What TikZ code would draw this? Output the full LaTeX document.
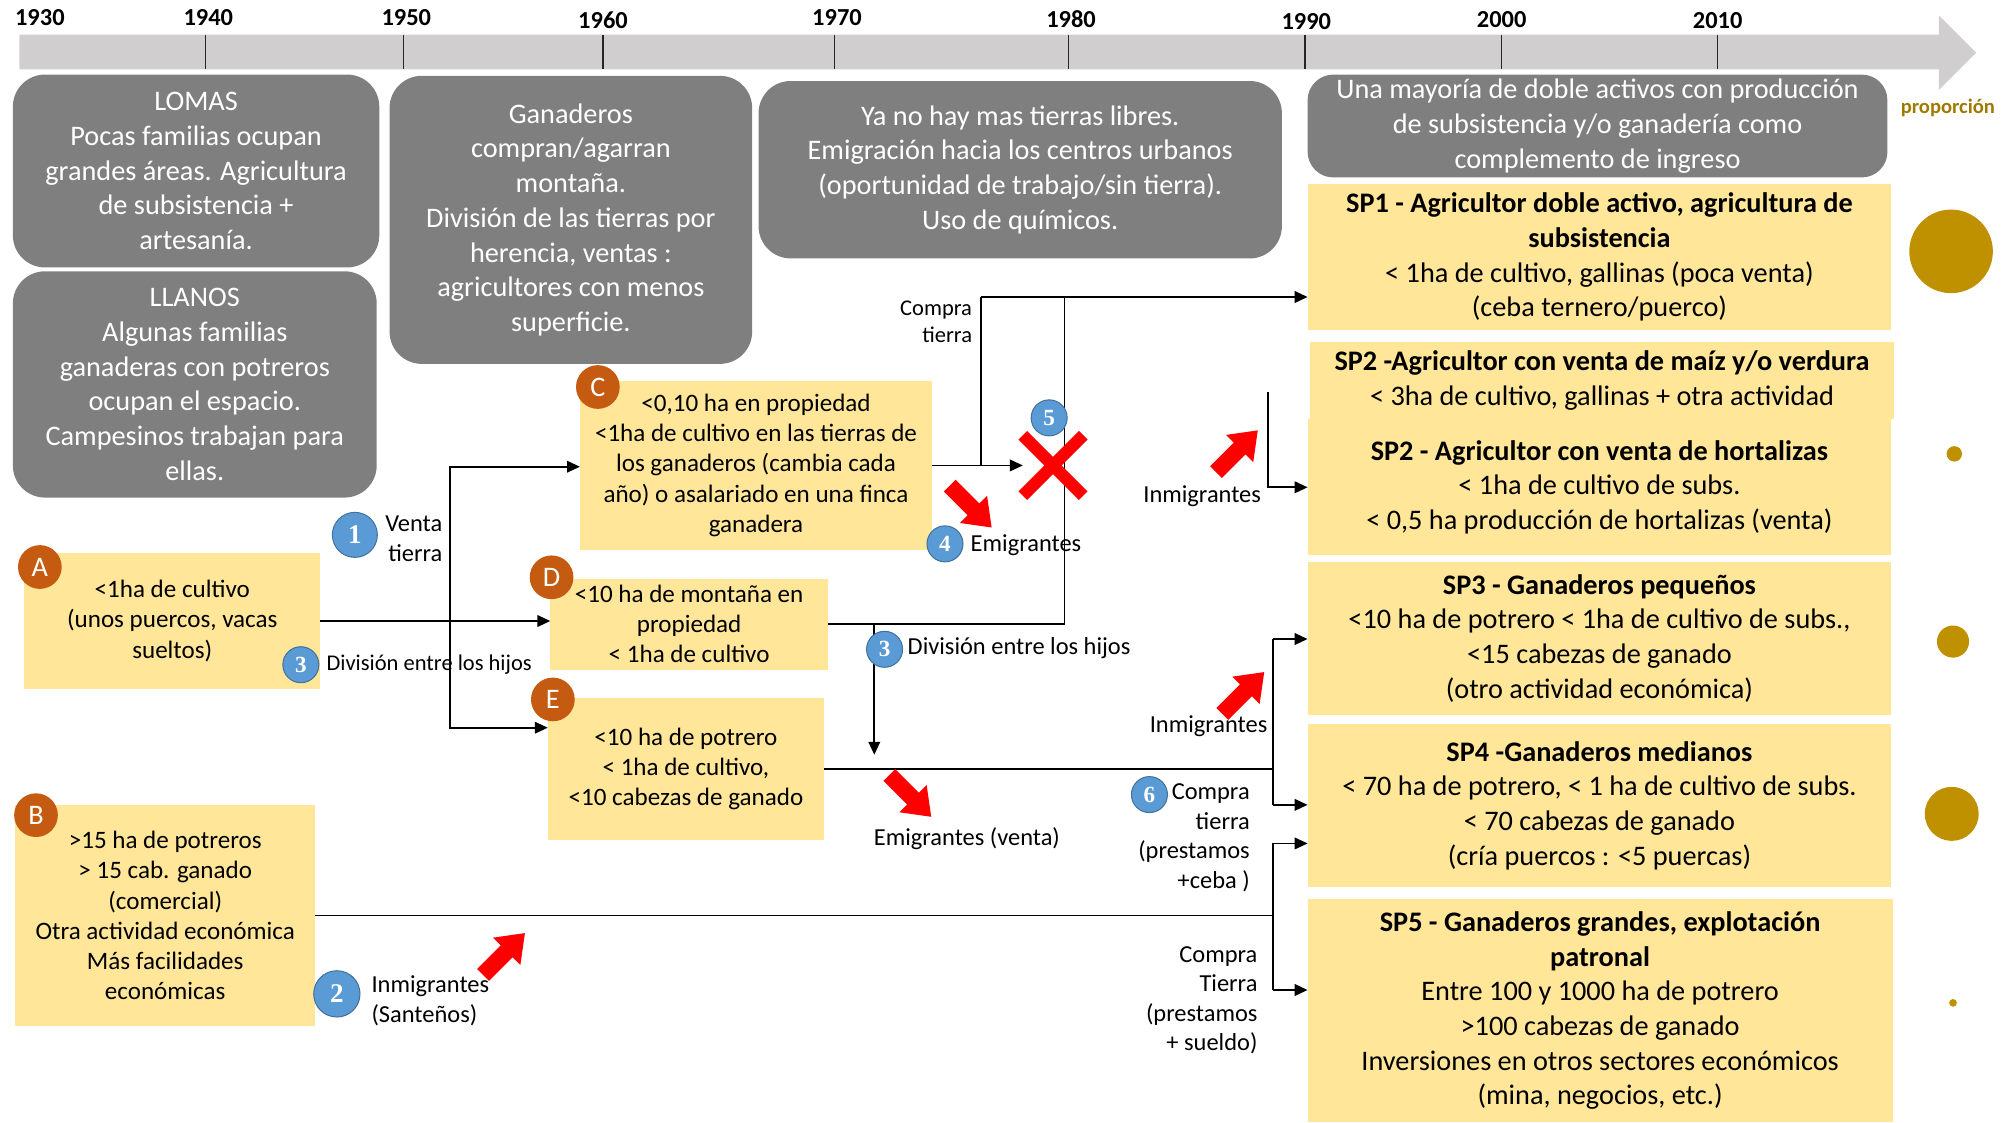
\documentclass[tikz,border=0pt]{standalone}
\usepackage{fontspec}
\setmainfont{Carlito}
\newfontfamily\numfont{Liberation Serif}
\usetikzlibrary{arrows.meta}

\definecolor{timebar}{HTML}{D0CECE}
\definecolor{eragray}{HTML}{7F7F7F}
\definecolor{farmyellow}{HTML}{FFE699}
\definecolor{letterorange}{HTML}{C55A11}
\definecolor{stepblue}{HTML}{5B9BD5}
\definecolor{stepedge}{HTML}{41719C}
\definecolor{sharegold}{HTML}{BF9000}
\definecolor{sharetext}{HTML}{A07A00}

\tikzset{
  redarrow/.pic={\fill[red] (-23,-6.5) -- (3,-6.5) -- (3,-15) -- (23,0) -- (3,15) -- (3,6.5) -- (-23,6.5) -- cycle;}
}

\begin{document}
\begin{tikzpicture}[x=1pt, y=-1pt,
  every node/.style={inner sep=0pt, outer sep=0pt},
  erabox/.style={fill=eragray, rounded corners=25pt, text=white, align=center, font=\fontsize{22}{27}\selectfont},
  farmbox/.style={fill=farmyellow, align=center, font=\fontsize{19.5}{23.4}\selectfont},
  spbox/.style={fill=farmyellow, align=center, font=\fontsize{22}{27}\selectfont},
  lbl/.style={font=\fontsize{19}{23}\selectfont},
  smalllbl/.style={font=\fontsize{17.5}{21}\selectfont},
  yearlabel/.style={font=\bfseries\fontsize{19}{19}\selectfont},
  letterdot/.style={circle, fill=letterorange, text=white, minimum size=34, font=\fontsize{22}{22}\selectfont},
  stepdot/.style={circle, fill=stepblue, draw=stepedge, line width=0.8pt, text=white, minimum size=28, font=\numfont\bfseries\fontsize{18}{18}\selectfont},
  bigstep/.style={stepdot, minimum size=35, font=\numfont\bfseries\fontsize{21}{21}\selectfont},
  sharedot/.style={circle, fill=sharegold},
  conn/.style={line width=1.3pt, black},
  connarrow/.style={conn, -{Triangle[length=10pt,width=9pt]}},
  yeartick/.style={line width=1pt, black!85}
]
\useasboundingbox (0,0) rectangle (1568,873);

% ---- timeline ----
\fill[timebar] (15,27) -- (1508,27) -- (1508,12) -- (1537,41) -- (1508,70) -- (1508,54) -- (15,54) -- cycle;
\foreach \tx in {160,314,469,649,831,1015,1168,1336}
  \draw[yeartick] (\tx,27) -- (\tx,54);
\node[yearlabel] (y1930) at (31,14) {1930};
\node[yearlabel] (y1940) at (162,14) {1940};
\node[yearlabel] (y1950) at (316,14) {1950};
\node[yearlabel] (y1960) at (469,16) {1960};
\node[yearlabel] (y1970) at (651,14) {1970};
\node[yearlabel] (y1980) at (833,15) {1980};
\node[yearlabel] (y1990) at (1016,17) {1990};
\node[yearlabel] (y2000) at (1168,15) {2000};
\node[yearlabel] (y2010) at (1336,16) {2010};

% ---- period descriptions ----
\node[erabox, minimum width=285, minimum height=150] (lomas) at (152.5,133)
  {LOMAS\\Pocas familias ocupan\\grandes áreas. Agricultura\\de subsistencia +\\artesanía.};
\node[erabox, minimum width=283, minimum height=176] (llanos) at (151.5,299)
  {LLANOS\\Algunas familias\\ganaderas con potreros\\ocupan el espacio.\\Campesinos trabajan para\\ellas.};
\node[erabox, minimum width=282, minimum height=224] (ganad) at (444,171)
  {Ganaderos\\compran/agarran\\montaña.\\División de las tierras por\\herencia, ventas :\\agricultores con menos\\superficie.};
\node[erabox, minimum width=407, minimum height=138] (tierras) at (793.5,132)
  {Ya no hay mas tierras libres.\\Emigración hacia los centros urbanos\\(oportunidad de trabajo/sin tierra).\\Uso de químicos.};
\node[erabox, rounded corners=20pt, minimum width=451, minimum height=80] (mayoria) at (1242.5,98)
  {Una mayoría de doble activos con producción\\de subsistencia y/o ganadería como\\complemento de ingreso};

% ---- farm types ----
\node[farmbox, minimum width=230, minimum height=106] (A) at (134,483)
  {<1ha de cultivo\\(unos puercos, vacas\\sueltos)};
\node[farmbox, minimum width=233, minimum height=172] (B) at (128.5,712)
  {>15 ha de potreros\\> 15 cab. ganado\\(comercial)\\Otra actividad económica\\Más facilidades\\económicas};
\node[farmbox, minimum width=274, minimum height=132] (C) at (588,362)
  {<0,10 ha en propiedad\\<1ha de cultivo en las tierras de\\los ganaderos (cambia cada\\año) o asalariado en una finca\\ganadera};
\node[farmbox, minimum width=216, minimum height=71] (D) at (536,485.5)
  {<10 ha de montaña en\\propiedad\\< 1ha de cultivo};
\node[farmbox, minimum width=215, minimum height=110] (E) at (533.5,598)
  {<10 ha de potrero\\< 1ha de cultivo,\\<10 cabezas de ganado};

% ---- present production systems ----
\node[spbox, minimum width=454, minimum height=114] (sp1) at (1244,200)
  {\textbf{SP1 - Agricultor doble activo, agricultura de}\\\textbf{subsistencia}\\< 1ha de cultivo, gallinas (poca venta)\\(ceba ternero/puerco)};
\node[spbox, minimum width=454, minimum height=60] (sp2a) at (1246,296)
  {\textbf{SP2 -Agricultor con venta de maíz y/o verdura}\\< 3ha de cultivo, gallinas + otra actividad};
\node[spbox, minimum width=454, minimum height=106] (sp2b) at (1244,379)
  {\textbf{SP2 - Agricultor con venta de hortalizas}\\< 1ha de cultivo de subs.\\< 0,5 ha producción de hortalizas (venta)};
\node[spbox, minimum width=454, minimum height=119] (sp3) at (1244,496.5)
  {\textbf{SP3 - Ganaderos pequeños}\\<10 ha de potrero < 1ha de cultivo de subs.,\\<15 cabezas de ganado\\(otro actividad económica)};
\node[spbox, minimum width=454, minimum height=127] (sp4) at (1244,626.5)
  {\textbf{SP4 -Ganaderos medianos}\\< 70 ha de potrero, < 1 ha de cultivo de subs.\\< 70 cabezas de ganado\\(cría puercos : <5 puercas)};
\node[spbox, minimum width=455, minimum height=174] (sp5) at (1244.5,786)
  {\textbf{SP5 - Ganaderos grandes, explotación}\\\textbf{patronal}\\Entre 100 y 1000 ha de potrero\\>100 cabezas de ganado\\Inversiones en otros sectores económicos\\(mina, negocios, etc.)};

% ---- proportion of each system ----
\node[font=\bfseries\fontsize{16}{16}\selectfont, text=sharetext] (prop) at (1515,84) {proporción};
\node[sharedot, minimum size=65] (p1) at (1517.5,195.5) {};
\node[sharedot, minimum size=12] (p2) at (1520,353) {};
\node[sharedot, minimum size=25] (p3) at (1519,499) {};
\node[sharedot, minimum size=42] (p4) at (1518,633) {};
\node[sharedot, minimum size=6] (p5) at (1519,780) {};

% ---- red cross ----
\node[minimum width=47, minimum height=47] (cross) at (819,362) {};

% ---- connectors ----
\coordinate (vt) at (350,483);
\coordinate (vtop) at (350,363);
\coordinate (vbot) at (350,566);
\draw[connarrow] (A.east) -- (D.west |- A.east);
\draw[connarrow] (vt) -- (vtop) -- (C.west |- vtop);
\draw[connarrow] (vt) -- (vbot) -- (E.west |- vbot);

\coordinate (ct) at (763,362);
\coordinate (ctop) at (763,231);
\coordinate (dj) at (828,485.5);
\coordinate (djtop) at (828,231);
\draw[connarrow] (C.east) -- (cross.west);
\draw[conn] (ct) -- (ctop);
\draw[connarrow] (ctop) -- (sp1.west |- ctop);
\draw[conn] (D.east) -- (dj) -- (djtop);

\coordinate (dsplit) at (680,485.5);
\coordinate (dsplitend) at (680,587);
\draw[connarrow] (dsplit) -- (dsplitend);

\coordinate (ej) at (990,598);
\coordinate (e3) at (990,497);
\coordinate (e4) at (990,626);
\draw[conn] (E.east) -- (ej);
\draw[conn] (e3) -- (e4);
\draw[connarrow] (e3) -- (sp3.west |- e3);
\draw[connarrow] (e4) -- (sp4.west |- e4);

\coordinate (bj) at (990,712);
\coordinate (b4) at (990,656);
\coordinate (b5) at (990,770);
\draw[conn] (B.east) -- (bj);
\draw[conn] (b4) -- (b5);
\draw[connarrow] (b4) -- (sp4.west |- b4);
\draw[connarrow] (b5) -- (sp5.west |- b5);

\coordinate (im2top) at (986,305);
\coordinate (im2) at (986,379);
\draw[connarrow] (im2top) -- (im2) -- (sp2b.west |- im2);

\draw[red, line width=9.5pt] (cross.north west) -- (cross.south east)
  (cross.north east) -- (cross.south west);

% ---- red movement arrows ----
\pic[rotate=-45] at (755,394) {redarrow};
\pic[rotate=45] at (962,351) {redarrow};
\pic[rotate=45] at (967,539) {redarrow};
\pic[rotate=-45] at (708,619) {redarrow};
\pic[rotate=45] at (392,742) {redarrow};

% ---- labels ----
\node[lbl, align=right, anchor=east] (venta) at (344,419) {Venta\\tierra};
\node[smalllbl, anchor=west] (div1) at (254,517) {División entre los hijos};
\node[lbl, anchor=west] (div2) at (706,504) {División entre los hijos};
\node[lbl, anchor=west] (emig) at (755,424) {Emigrantes};
\node[smalllbl, align=right, anchor=east] (compra1) at (756,250) {Compra\\tierra};
\node[lbl] (inm1) at (935,386) {Inmigrantes};
\node[lbl] (inm2) at (940,565) {Inmigrantes};
\node[lbl] (emigv) at (752,652) {Emigrantes (venta)};
\node[lbl, align=right, anchor=east] (compra6) at (972,651.5) {Compra\\tierra\\(prestamos\\+ceba )};
\node[lbl, align=right, anchor=east] (compra5) at (978,778) {Compra\\Tierra\\(prestamos\\+ sueldo)};
\node[lbl, align=left, anchor=west] (santenos) at (289,778.5) {Inmigrantes\\(Santeños)};

% ---- type letters ----
\node[letterdot] (la) at (31,441) {A};
\node[letterdot] (lb) at (28,634) {B};
\node[letterdot] (lc) at (465,301) {C};
\node[letterdot] (ld) at (429,449) {D};
\node[letterdot] (le) at (430,544) {E};

% ---- numbered steps ----
\node[bigstep] (s1) at (276,416) {1};
\node[bigstep, minimum size=36] (s2) at (262,773) {2};
\node[stepdot] (s3a) at (234,517) {3};
\node[stepdot] (s3b) at (688,505) {3};
\node[stepdot] (s4) at (735,423) {4};
\node[stepdot] (s5) at (816,325) {5};
\node[stepdot] (s6) at (894,618) {6};
\end{tikzpicture}
\end{document}
